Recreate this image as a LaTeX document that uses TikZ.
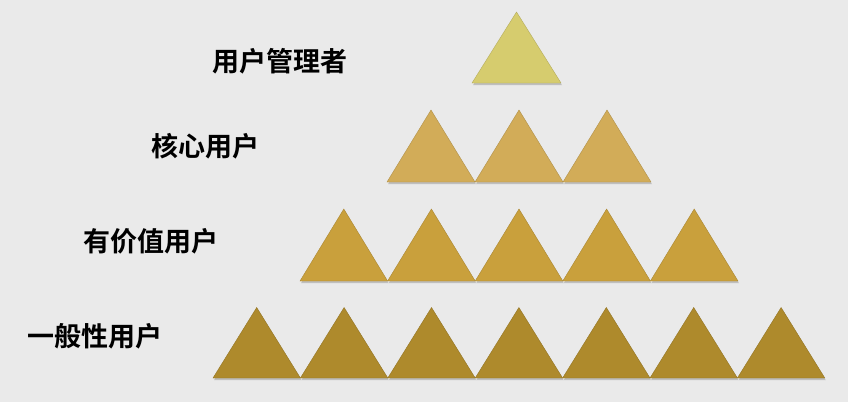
\documentclass[tikz,border=0pt]{standalone}
\usepackage{fontspec}
\newfontfamily\cjk{Noto Sans CJK SC}[BoldFont={Noto Sans CJK SC Bold}]
\definecolor{bg}{HTML}{EAEAEA}
\definecolor{cA}{HTML}{D6CC6E}
\definecolor{cB}{HTML}{D2AC58}
\definecolor{cC}{HTML}{C9A03C}
\definecolor{cD}{HTML}{AE8A2C}
\begin{document}
\begin{tikzpicture}[x=1pt,y=-1pt,
  lbl/.style={font=\cjk\bfseries\fontsize{27}{30}\selectfont, text=black, inner sep=0pt},
  tri/.style={fill=#1, draw=#1!85!black, line width=0.4pt, line join=miter},
  shade/.style={fill=black, fill opacity=0.18, draw=none}]
\fill[bg] (0,0) rectangle (848,402);
\useasboundingbox (0,0) rectangle (848,402);
% rows: left x, base y, apex y, width, count, color
\foreach \lx/\by/\ay/\w/\n/\c in {472/83/12/89/1/cA, 387/182/110/88/3/cB, 300/281/209/87.6/5/cC, 213/378/307.5/87.4/7/cD}{
  \foreach \i in {1,...,\n}{
    \pgfmathsetmacro{\xa}{\lx+(\i-1)*\w}
    \pgfmathsetmacro{\xb}{\xa+\w}
    \pgfmathsetmacro{\xm}{\xa+\w/2}
    \fill[shade] (\xa+1,\by+2.2) -- (\xb+1,\by+2.2) -- (\xm+1,\ay+2) -- cycle;
    \path[tri=\c] (\xa,\by) -- (\xb,\by) -- (\xm,\ay) -- cycle;
  }
}
\node[lbl] (l1) at (280,61.7) {用户管理者};
\node[lbl] (l2) at (205,146.7) {核心用户};
\node[lbl] (l3) at (151,241.7) {有价值用户};
\node[lbl] (l4) at (95,336.7) {一般性用户};
\end{tikzpicture}
\end{document}
